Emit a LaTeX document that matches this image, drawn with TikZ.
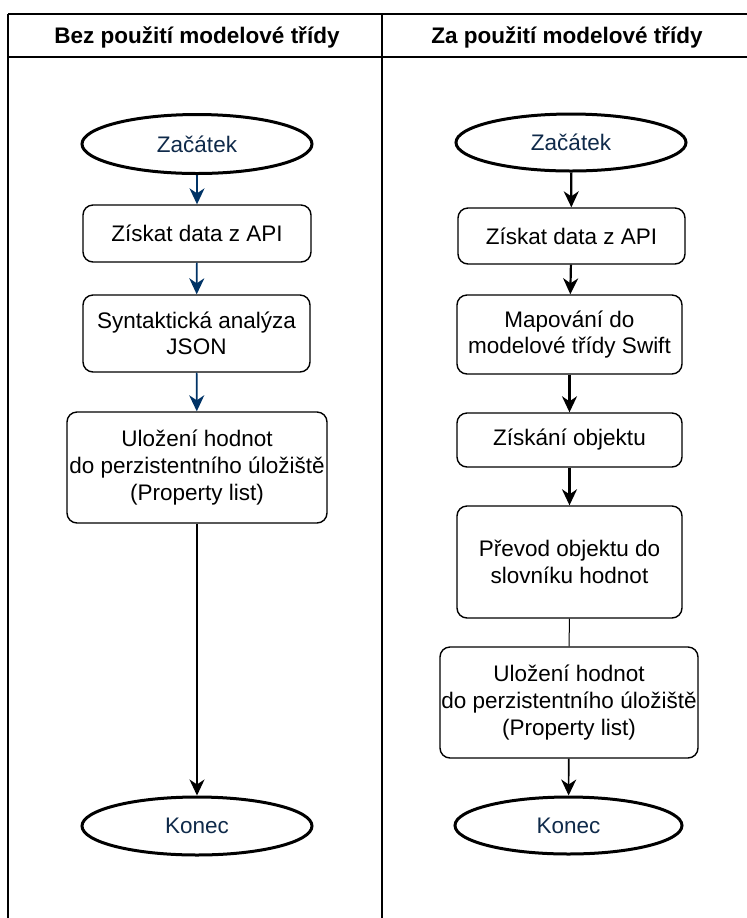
\documentclass[tikz,border=0pt]{standalone}
\usepackage{fontspec}
\setmainfont{Liberation Sans}
\usetikzlibrary{shapes.geometric,arrows.meta}
\definecolor{navytext}{HTML}{0F2A4A}
\definecolor{flowblue}{HTML}{003366}

\begin{document}
\begin{tikzpicture}[x=0.5pt,y=-0.5pt,
  font=\fontsize{11.25}{13.3}\selectfont,
  term/.style={ellipse,draw,line width=1.5pt,fill=white,text=navytext,inner sep=0pt},
  procbox/.style={rectangle,rounded corners=5pt,draw,line width=0.7pt,fill=white,align=center,inner sep=0pt},
  lane/.style={draw,line width=0.8pt},
  flowarrow/.style={-{Stealth[length=8pt,width=7.5pt,inset=2.5pt]}}]
\useasboundingbox (0,0) rectangle (747,918);
\draw[lane] (8,14) -- (747,14);
\draw[lane] (8,57) -- (747,57);
\draw[lane] (8,14) -- (8,918);
\draw[lane] (382,14) -- (382,918);
\node[font=\fontsize{11.25}{13.3}\selectfont\bfseries] (h1) at (197,37) {Bez použití modelové třídy};
\node[font=\fontsize{11.25}{13.3}\selectfont\bfseries] (h2) at (567,37) {Za použití modelové třídy};
\node[term,minimum width=115pt,minimum height=29.5pt] (l0) at (197,144) {Začátek};
\node[procbox,minimum width=114pt,minimum height=28.5pt] (l1) at (197,233.5) {Získat data z API};
\node[procbox,minimum width=113.5pt,minimum height=38.5pt] (l2) at (196.5,333.5) {Syntaktická analýza\\JSON};
\node[procbox,minimum width=130pt,minimum height=55.5pt] (l3) at (197,467.5) {Uložení hodnot\\do perzistentního úložiště\\(Property list)};
\node[term,minimum width=115pt,minimum height=29pt] (l4) at (197,826) {Konec};
\node[term,minimum width=115pt,minimum height=28.5pt] (r0) at (571,142.5) {Začátek};
\node[procbox,minimum width=113.5pt,minimum height=28pt] (r1) at (571.5,236) {Získat data z API};
\node[procbox,minimum width=112.5pt,minimum height=39.5pt] (r2) at (569.5,334.5) {Mapování do\\modelové třídy Swift};
\node[procbox,minimum width=112.5pt,minimum height=27pt] (r3) at (569.5,440) {Získání objektu};
\node[procbox,minimum width=112.5pt,minimum height=56pt] (r4) at (569.5,562) {Převod objektu do\\slovníku hodnot};
\node[procbox,minimum width=129pt,minimum height=55.5pt] (r5) at (569,702.5) {Uložení hodnot\\do perzistentního úložiště\\(Property list)};
\node[term,minimum width=113.5pt,minimum height=28.5pt] (r6) at (568.5,825.5) {Konec};
\path[draw,flowblue,line width=0.85pt] (l0) edge[flowarrow] (l1);
\path[draw,flowblue,line width=0.85pt] (l1) edge[flowarrow] (l2);
\path[draw,flowblue,line width=0.85pt] (l2) edge[flowarrow] (l3);
\path[draw,line width=0.8pt] (l3) edge[flowarrow] (l4);
\path[draw,line width=1.1pt] (r0) edge[flowarrow] (r1);
\path[draw,line width=1.1pt] (r1) edge[flowarrow] (r2);
\path[draw,line width=1.1pt] (r2) edge[flowarrow] (r3);
\path[draw,line width=1.1pt] (r3) edge[flowarrow] (r4);
\path[draw,line width=0.5pt] (r4) edge (r5);
\path[draw,line width=0.8pt] (r5) edge[flowarrow] (r6);
\end{tikzpicture}
\end{document}
